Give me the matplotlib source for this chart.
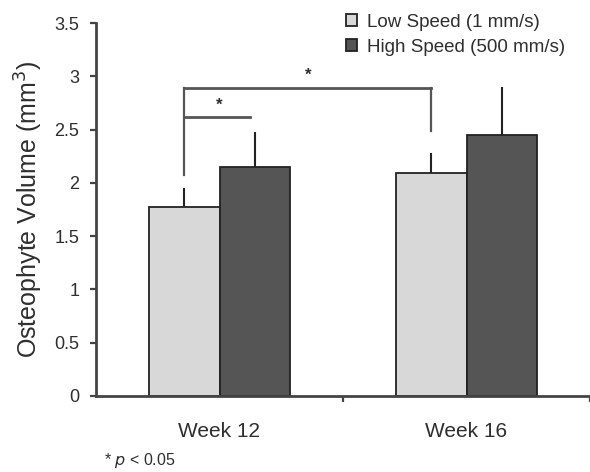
import matplotlib
matplotlib.use("Agg")
import matplotlib.pyplot as plt
from matplotlib.patches import Patch
import numpy as np

plt.rcParams['font.family'] = ['Liberation Sans', 'DejaVu Sans']

# Data
weeks = ["Week 12", "Week 16"]
series_names = ["Low Speed (1 mm/s)", "High Speed (500 mm/s)"]
low_speed = [1.77, 2.09]
low_speed_err = [0.18, 0.19]
high_speed = [2.15, 2.45]
high_speed_err = [0.33, 0.45]
y_ticks = [0, 0.5, 1, 1.5, 2, 2.5, 3, 3.5]
y_tick_labels = ["0", "0.5", "1", "1.5", "2", "2.5", "3", "3.5"]

text_color = "#2e2e2e"
axis_color = "#444444"
light = "#d8d8d8"
dark = "#555555"

fig = plt.figure(figsize=(5.9, 4.72), dpi=100)
ax = fig.add_axes([96/590, 1-396/472, 1-96/590, (396-23)/472])

centers = np.arange(len(weeks)) + 0.5
w = 0.285
x_low = centers - w/2
x_high = centers + w/2

ax.bar(x_low, low_speed, width=w, color=light, edgecolor="#222222", linewidth=1.3, zorder=2)
ax.bar(x_high, high_speed, width=w, color=dark, edgecolor="#222222", linewidth=1.3, zorder=2)

# upward-only error bars, no caps
ax.errorbar(x_low, low_speed, yerr=[np.zeros(2), low_speed_err], fmt="none",
            ecolor="#222222", elinewidth=1.5, capsize=0, zorder=3)
ax.errorbar(x_high, high_speed, yerr=[np.zeros(2), high_speed_err], fmt="none",
            ecolor="#222222", elinewidth=1.5, capsize=0, zorder=3)

# significance brackets
bc = "#555555"
outer_y = 2.89
inner_y = 2.62
ax.plot([x_low[0], x_low[0]], [low_speed[0] + low_speed_err[0] + 0.12, outer_y],
        color=bc, lw=1.6, zorder=3)
ax.plot([x_low[0], x_low[1]], [outer_y, outer_y], color=bc, lw=2.0, zorder=3)
ax.plot([x_low[1], x_low[1]], [outer_y, 2.49], color=bc, lw=1.6, zorder=3)
ax.plot([x_low[0], x_high[0] - 0.02], [inner_y, inner_y], color=bc, lw=2.0, zorder=3)
ax.text(centers[0], 2.73, "*", ha="center", va="center", fontsize=12, color=text_color,
        fontweight="bold")
ax.text((x_low[0] + x_low[1]) / 2, 3.01, "*", ha="center", va="center", fontsize=12,
        color=text_color, fontweight="bold")

ax.set_xlim(0, 2)
ax.set_ylim(0, 3.5)
ax.set_yticks(y_ticks)
ax.set_yticklabels(y_tick_labels)
ax.set_xticks([1, 2])
ax.set_xticklabels(["", ""])
ax.set_xticks(centers, minor=True)
ax.set_xticklabels(weeks, minor=True)

for s in ["top", "right"]:
    ax.spines[s].set_visible(False)
for s in ["left", "bottom"]:
    ax.spines[s].set_color(axis_color)
    ax.spines[s].set_linewidth(2.0)
ax.spines["bottom"].set_zorder(4)

ax.tick_params(axis="y", direction="out", length=4, width=1.6, color=axis_color,
               labelsize=13, labelcolor=text_color, pad=8)
ax.tick_params(axis="x", which="major", direction="out", length=4, width=1.6,
               color=axis_color)
ax.tick_params(axis="x", which="minor", length=0, pad=18.5, labelsize=15,
               labelcolor=text_color)

ax.set_ylabel("Osteophyte Volume (mm$^3$)", fontsize=18, color=text_color,
              ha="center", va="center")
ax.yaxis.set_label_coords(-0.135, 0.5)

handles = [Patch(facecolor=light, edgecolor="#222222", linewidth=1.3),
           Patch(facecolor=dark, edgecolor="#222222", linewidth=1.3)]
fig.legend(handles, series_names, loc="upper left",
           bbox_to_anchor=(346/590, 1-14/472), frameon=False, fontsize=13.5,
           handlelength=0.6, handleheight=0.6, handletextpad=0.5,
           labelspacing=0.4, borderpad=0, borderaxespad=0, labelcolor=text_color)

fig.text(104/590, 1-461/472, "* $\\it{p}$ < 0.05", fontsize=11.5, color=text_color,
         ha="left", va="center")

fig.savefig("out.png", dpi=100)
